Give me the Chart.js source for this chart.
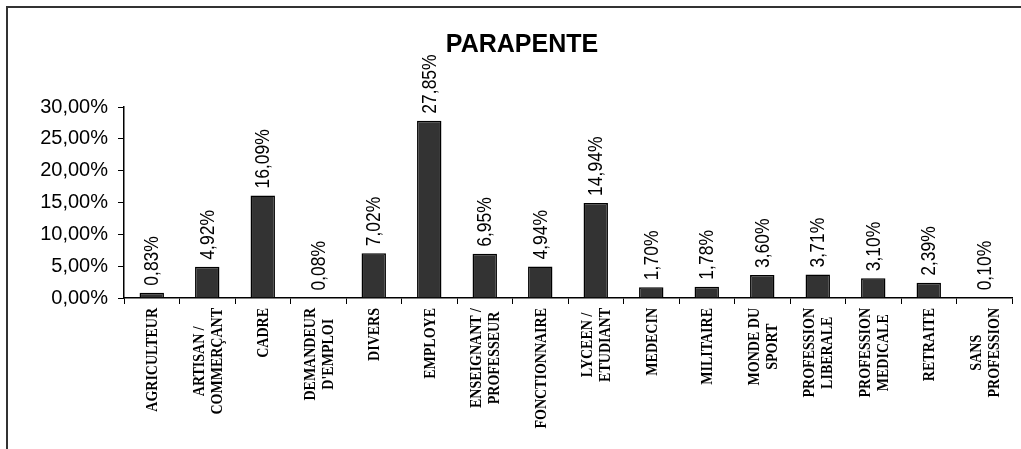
<!DOCTYPE html>
<html lang="fr">
<head>
  <meta charset="UTF-8">
  <title>Parapente</title>
  <style>
    body { margin: 0; background: white; }
    #cadre {
      position: relative;
      width: 1021px;
      height: 449px;
    }
    #bord {
      position: absolute;
      left: 6px;
      top: 6px;
      right: 0;
      bottom: 0;
      border-top: 2px solid #333;
      border-left: 2px solid #333;
      pointer-events: none;
    }
  </style>
</head>
<body>
  <div id="cadre">
    <canvas id="chart" width="1021" height="449"></canvas>
    <div id="bord"></div>
  </div>

  <script src="https://cdn.jsdelivr.net/npm/chart.js"></script>
  <script>
    const titre = "PARAPENTE";
    const categories = [
      ["AGRICULTEUR"],
      ["ARTISAN /", "COMMERÇANT"],
      ["CADRE"],
      ["DEMANDEUR", "D'EMPLOI"],
      ["DIVERS"],
      ["EMPLOYE"],
      ["ENSEIGNANT /", "PROFESSEUR"],
      ["FONCTIONNAIRE"],
      ["LYCEEN /", "ETUDIANT"],
      ["MEDECIN"],
      ["MILITAIRE"],
      ["MONDE DU", "SPORT"],
      ["PROFESSION", "LIBERALE"],
      ["PROFESSION", "MEDICALE"],
      ["RETRAITE"],
      ["SANS", "PROFESSION"]
    ];
    const pourcentages = [0.83, 4.92, 16.09, 0.08, 7.02, 27.85, 6.95, 4.94, 14.94, 1.70, 1.78, 3.60, 3.71, 3.10, 2.39, 0.10];
    const yMax = 30;
    const yPas = 5;

    function formatPct(v) {
      return v.toFixed(2).replace(".", ",") + "%";
    }

    // etiquettes de valeur verticales au-dessus des barres
    const etiquettes = {
      id: "etiquettes",
      afterDatasetsDraw(chart) {
        const ctx = chart.ctx;
        const meta = chart.getDatasetMeta(0);
        ctx.save();
        ctx.fillStyle = "#000";
        ctx.font = "17.5px 'Liberation Sans', Arial, sans-serif";
        ctx.textAlign = "left";
        ctx.textBaseline = "middle";
        meta.data.forEach((bar, i) => {
          ctx.save();
          ctx.translate(bar.x + 1, bar.y - 7);
          ctx.scale(1.15, 1); // le scan est un peu etire en largeur
          ctx.rotate(-Math.PI / 2);
          ctx.fillText(formatPct(pourcentages[i]), 0, 0);
          ctx.restore();
        });
        ctx.restore();
      }
    };

    // noms des categories, verticaux, lignes centrees entre elles
    const nomsCategories = {
      id: "nomsCategories",
      afterDraw(chart) {
        const ctx = chart.ctx;
        const x = chart.scales.x;
        const haut = x.top + 10;
        const interligne = 18;
        ctx.save();
        ctx.fillStyle = "#000";
        ctx.font = "bold 14px 'Liberation Serif', 'Times New Roman', serif";
        ctx.textAlign = "center";
        ctx.textBaseline = "middle";
        categories.forEach((lignes, i) => {
          const px = x.getPixelForTick(i);
          const largeur = Math.max(...lignes.map(l => ctx.measureText(l).width));
          lignes.forEach((l, j) => {
            const dx = (j - (lignes.length - 1) / 2) * interligne;
            ctx.save();
            ctx.translate(px + dx + 1, haut + largeur / 2);
            ctx.scale(1.2, 1);
            ctx.rotate(-Math.PI / 2);
            ctx.fillText(l, 0, 0);
            ctx.restore();
          });
        });
        ctx.restore();
      }
    };

    const titrePlugin = {
      id: "titrePlugin",
      afterDraw(chart) {
        const ctx = chart.ctx;
        ctx.save();
        ctx.fillStyle = "#000";
        ctx.font = "bold 25px 'Liberation Sans', Arial, sans-serif";
        ctx.textAlign = "center";
        ctx.textBaseline = "middle";
        ctx.fillText(titre, 522, 45);
        ctx.restore();
      }
    };

    const ctx = document.getElementById("chart").getContext("2d");
    new Chart(ctx, {
      type: "bar",
      data: {
        labels: categories.map(l => l.join(" ")),
        datasets: [{
          data: pourcentages,
          backgroundColor: "#333",
          borderColor: "#000",
          borderWidth: 1.5,
          barPercentage: 0.44,
          categoryPercentage: 1
        }]
      },
      options: {
        responsive: false,
        animation: false,
        layout: { padding: { top: 107, right: 9, bottom: 0, left: 0 } },
        plugins: {
          legend: { display: false },
          tooltip: { enabled: false },
          title: { display: false }
        },
        scales: {
          x: {
            afterFit(scale) { scale.height = 151; },
            grid: {
              offset: true,
              drawOnChartArea: false,
              tickLength: 6,
              color: "#000"
            },
            border: { color: "#000", width: 1.5 },
            ticks: { display: false }
          },
          y: {
            min: 0,
            max: yMax,
            afterFit(scale) { scale.width = 124; },
            grid: {
              drawOnChartArea: false,
              tickLength: 6,
              color: "#000"
            },
            border: { color: "#000", width: 1.5 },
            ticks: {
              stepSize: yPas,
              padding: 10,
              color: "#000",
              font: { family: "'Liberation Sans', Arial, sans-serif", size: 20 },
              callback: (v) => formatPct(v)
            }
          }
        }
      },
      plugins: [etiquettes, nomsCategories, titrePlugin]
    });
  </script>
</body>
</html>
